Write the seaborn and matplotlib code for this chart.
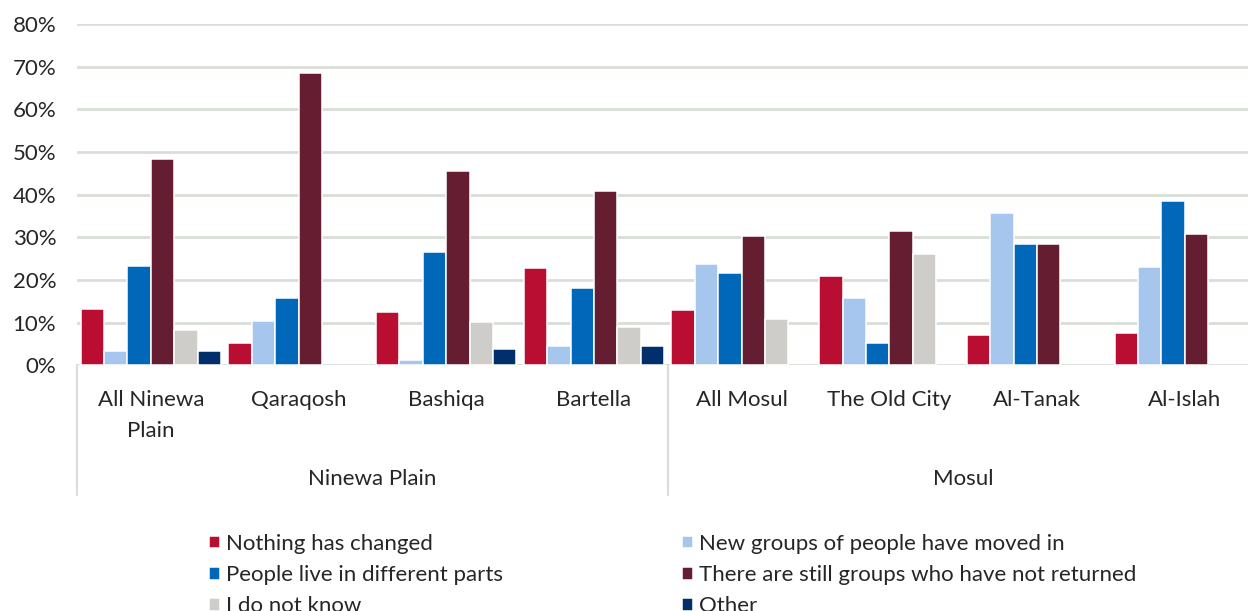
import numpy as np
import pandas as pd
import matplotlib
matplotlib.use("Agg")
import matplotlib.pyplot as plt
import matplotlib.transforms as mtransforms
import seaborn as sns

# Survey answers: how has the community's make-up changed (share of respondents, %)
locations = ["All Ninewa\nPlain", "Qaraqosh", "Bashiqa", "Bartella",
             "All Mosul", "The Old City", "Al-Tanak", "Al-Islah"]
regions = ["Ninewa Plain", "Mosul"]
region_sizes = [4, 4]

answers = ["Nothing has changed", "New groups of people have moved in",
           "People live in different parts", "There are still groups who have not returned",
           "I do not know", "Other"]

nothing_changed = [13.2, 5.2, 12.6, 22.7, 13.0, 20.9, 7.1, 7.6]
new_groups = [3.3, 10.5, 1.2, 4.5, 23.8, 15.7, 35.7, 23.0]
different_parts = [23.3, 15.7, 26.5, 18.1, 21.6, 5.2, 28.5, 38.4]
not_returned = [48.3, 68.4, 45.5, 40.8, 30.3, 31.5, 28.5, 30.7]
do_not_know = [8.3, np.nan, 10.1, 9.0, 10.8, 26.2, np.nan, np.nan]
other = [3.3, np.nan, 3.8, 4.5, np.nan, np.nan, np.nan, np.nan]

colors = ["#B90E31", "#A7C6ED", "#0067B9", "#651D32", "#CFCDC9", "#002F6C"]

series = [nothing_changed, new_groups, different_parts, not_returned, do_not_know, other]
df = pd.DataFrame({
    "location": np.tile(locations, len(answers)),
    "answer": np.repeat(answers, len(locations)),
    "value": np.concatenate(series),
})

sns.set_theme(style="white")
plt.rcParams["font.family"] = ["Lato", "DejaVu Sans"]
text_color = "#262626"
line_color = "#D9DED8"
fs = 16

fig = plt.figure(figsize=(12.48, 6.11), dpi=100)
W, H = 1248, 611
ax = fig.add_axes([77 / W, 1 - 365.3 / H, 1181.6 / W, (365.3 - 24) / H])

sns.barplot(data=df, x="location", y="value", hue="answer",
            order=locations, hue_order=answers, palette=colors, saturation=1,
            width=0.95, edgecolor="white", linewidth=1.1,
            errorbar=None, ax=ax, legend=True)

ax.set_xlim(-0.5, len(locations) - 0.5)
ax.set_ylim(0, 80)
ax.set_yticks(range(0, 81, 10))
ax.set_yticklabels([f"{v}%" for v in range(0, 81, 10)])
ax.yaxis.grid(True, color=line_color, linewidth=2)
ax.set_axisbelow(True)
for s in ax.spines.values():
    s.set_visible(False)
ax.set_xlabel("")
ax.set_ylabel("")
ax.tick_params(axis="y", length=0, pad=15, labelsize=fs, labelcolor=text_color)
ax.tick_params(axis="x", length=0, pad=18, labelsize=fs, labelcolor=text_color)
for lab in ax.get_yticklabels():
    lab.set_horizontalalignment("right")
for lab in ax.get_xticklabels():
    lab.set_multialignment("center")
    lab.set_linespacing(1.65)

# Two-level category axis: region separators and region names
trans = mtransforms.blended_transform_factory(ax.transData, ax.transAxes)
axes_h = 365.3 - 24
sep_bottom = -(495 - 365.3) / axes_h
edges = np.concatenate([[0], np.cumsum(region_sizes)]) - 0.5
for e in edges:
    ax.plot([e, e], [0, sep_bottom], transform=trans, color=line_color,
            linewidth=1.6, clip_on=False)
label_y = -(479 - 365.3) / axes_h
for name, a, b in zip(regions, edges[:-1], edges[1:]):
    ax.text((a + b) / 2, label_y, name, transform=trans, ha="center", va="center",
            fontsize=fs, color=text_color)

# Legend in two columns below the chart
handles, labels = ax.get_legend_handles_labels()
ax.get_legend().remove()
order = [0, 2, 4, 1, 3, 5]
handles = [handles[i] for i in order]
labels = [labels[i] for i in order]

def make_legend(colspace):
    return fig.legend(handles, labels, ncol=2, loc="upper left",
                      bbox_to_anchor=(209 / W, 1 - 534 / H), frameon=False,
                      fontsize=fs, handlelength=0.5, handleheight=0.5,
                      handletextpad=0.25, labelspacing=0.5, borderpad=0,
                      borderaxespad=0, columnspacing=colspace, labelcolor=text_color)

leg = make_legend(2.0)
fig.canvas.draw()
renderer = fig.canvas.get_renderer()
fs_px = fs * fig.dpi / 72
col1 = max(t.get_window_extent(renderer).width for t in leg.get_texts()[:3])
target = 683 - 210
needed = (target - col1 - (0.5 + 0.25) * fs_px) / fs_px
leg.remove()
make_legend(needed)

fig.savefig("out.png", dpi=100)
